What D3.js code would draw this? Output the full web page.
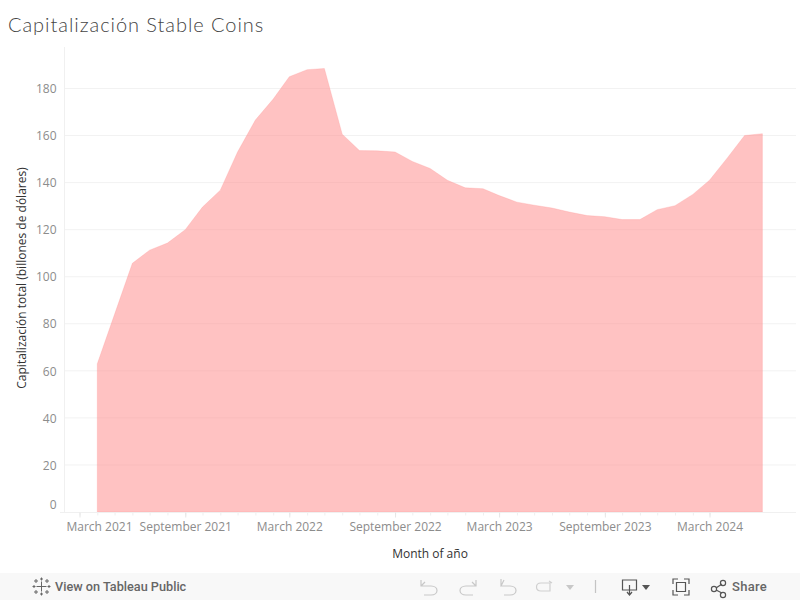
<!DOCTYPE html>
<html>
<head>
<meta charset="utf-8">
<script src="https://cdn.jsdelivr.net/npm/d3@7/dist/d3.min.js"></script>
<style>
    html, body { margin: 0; padding: 0; background: #fff; overflow: hidden; }
    text { font-family: "Open Sans", Lato, sans-serif; }
</style>
</head>
<body>
<div id="chart"></div>
<script>
// one value per month, April 2021 to June 2024
const months = ['2021-04', '2021-05', '2021-06', '2021-07', '2021-08', '2021-09', '2021-10', '2021-11', '2021-12',
    '2022-01', '2022-02', '2022-03', '2022-04', '2022-05', '2022-06', '2022-07', '2022-08', '2022-09', '2022-10', '2022-11', '2022-12',
    '2023-01', '2023-02', '2023-03', '2023-04', '2023-05', '2023-06', '2023-07', '2023-08', '2023-09', '2023-10', '2023-11', '2023-12',
    '2024-01', '2024-02', '2024-03', '2024-04', '2024-05', '2024-06'];
const capitalization = [63, 84, 105.7, 111.3, 114.3, 120, 129.6, 136.8, 153,
    166.6, 175.5, 185, 188, 188.5, 160.6, 153.6, 153.5, 153, 149, 146, 141,
    137.8, 137.4, 134.5, 131.7, 130.4, 129.2, 127.5, 126, 125.5, 124.3, 124.3, 128.5,
    130.2, 135, 141, 150.5, 160, 160.8];
const yTicks = [0, 20, 40, 60, 80, 100, 120, 140, 160, 180];
const xTicks = ['2021-03', '2021-09', '2022-03', '2022-09', '2023-03', '2023-09', '2024-03'];
const xLabels = ['March 2021', 'September 2021', 'March 2022', 'September 2022', 'March 2023', 'September 2023', 'March 2024'];

const parseMonth = d3.timeParse('%Y-%m');

const svg = d3.select('#chart').append('svg')
    .attr('width', 800)
    .attr('height', 600);

const x = d3.scaleTime()
    .domain([parseMonth('2021-03'), parseMonth('2024-03')])
    .range([79.5, 709.5]);
const y = d3.scaleLinear()
    .domain([0, 180])
    .range([512, 88.5]);

svg.append('text')
    .attr('x', 8)
    .attr('y', 32)
    .style('font-family', 'Lato, sans-serif')
    .style('font-size', '20px')
    .style('font-weight', 300)
    .style('letter-spacing', '0.95px')
    .style('fill', '#444')
    .text('Capitalización Stable Coins');

// gridlines
svg.append('g').selectAll('line')
    .data(yTicks.slice(1))
    .enter().append('line')
    .attr('x1', 65)
    .attr('x2', 796)
    .attr('y1', d => y(d))
    .attr('y2', d => y(d))
    .style('stroke', '#f2f2f2');

const area = d3.area()
    .x((d, i) => x(parseMonth(months[i])))
    .y0(y(0))
    .y1(d => y(d));

svg.append('path')
    .datum(capitalization)
    .attr('d', area)
    .style('fill', '#ff8a8a')
    .style('fill-opacity', 0.52)
    .style('stroke', '#ff8a8a')
    .style('stroke-opacity', 0.25);

// left axis
const yAxis = d3.axisLeft(y).tickValues(yTicks).tickSize(0).tickPadding(8);
const gy = svg.append('g').attr('transform', 'translate(64.5,0)').call(yAxis);
gy.select('.domain').attr('d', 'M0,47V512').style('stroke', '#f0f0f0');
gy.selectAll('text')
    .attr('dy', d => d === 0 ? '-0.3em' : '0.35em')
    .style('font-size', '12px')
    .style('fill', '#8c8c8c');

// bottom axis, minor ticks are months
const gMinor = svg.append('g').attr('transform', 'translate(0,512.5)')
    .call(d3.axisBottom(x).ticks(d3.timeMonth.every(1)).tickSize(3).tickFormat(''));
gMinor.select('.domain').remove();
gMinor.selectAll('line').style('stroke', '#efefef');

const gx = svg.append('g').attr('transform', 'translate(0,512.5)')
    .call(d3.axisBottom(x)
        .tickValues(xTicks.map(parseMonth))
        .tickSize(5)
        .tickPadding(5)
        .tickFormat((d, i) => xLabels[i]));
gx.select('.domain').attr('d', 'M60,0H796').style('stroke', '#f0f0f0');
gx.selectAll('line').style('stroke', '#e6e6e6');
gx.selectAll('text')
    .style('font-size', '12px')
    .style('fill', '#8c8c8c')
    .attr('dx', (d, i) => i === 0 ? 19.5 : 0);

svg.append('text')
    .attr('x', 430)
    .attr('y', 558)
    .attr('text-anchor', 'middle')
    .style('font-size', '12px')
    .style('fill', '#333')
    .text('Month of año');

svg.append('text')
    .attr('transform', 'translate(26,278) rotate(-90)')
    .attr('text-anchor', 'middle')
    .style('font-size', '12px')
    .style('fill', '#333')
    .text('Capitalización total (billones de dólares)');

// toolbar
const bar = svg.append('g');
bar.append('rect')
    .attr('x', 0)
    .attr('y', 573)
    .attr('width', 800)
    .attr('height', 27)
    .style('fill', '#f8f8f8');

const logo = bar.append('g')
    .attr('transform', 'translate(41.5,586.5)')
    .style('stroke', '#666')
    .style('fill', 'none');
[[0, 0, 5], [-5.5, -5.5, 2], [5.5, -5.5, 2], [-5.5, 5.5, 2], [5.5, 5.5, 2], [0, -7.5, 1.5], [0, 7.5, 1.5], [-7.5, 0, 1.5], [7.5, 0, 1.5]].forEach(p => {
    logo.append('path').attr('d', `M${p[0] - p[2]},${p[1]}H${p[0] + p[2]}M${p[0]},${p[1] - p[2]}V${p[1] + p[2]}`);
});

bar.append('text')
    .attr('x', 55)
    .attr('y', 591)
    .style('font-family', 'Roboto, sans-serif')
    .style('font-size', '12.7px')
    .style('font-weight', 500)
    .style('fill', '#666')
    .text('View on Tableau Public');

bar.append('text')
    .attr('x', 732)
    .attr('y', 591)
    .style('font-family', 'Roboto, sans-serif')
    .style('font-size', '13px')
    .style('font-weight', 500)
    .style('letter-spacing', '0.3px')
    .style('fill', '#666')
    .text('Share');

const icons = [
    { d: 'M421,580V586H431C439,586 439,595 431,595H424M421,586L425,582', color: '#c8c8c8' },
    { d: 'M476,580V586H466C458,586 458,595 466,595H473M476,586L472,582', color: '#c8c8c8' },
    { d: 'M501,579V586M504,580L501,586H510C518,586 518,595 510,595H504', color: '#c8c8c8' },
    { d: 'M541,583H550V591H541C535,591 535,583 541,583ZM549,581L552,583', color: '#d0d0d0' },
    { d: 'M595.5,580V593', color: '#c4c4c4' },
    { d: 'M629,590H622.5V580H636.5V590H630M629.5,585V594M627,592L629.5,595L632,592', color: '#555' },
    { d: 'M673,584V579H678M684,579H689V584M689,590V595H684M678,595H673V590M676.5,582.5H685.5V591.5H676.5Z', color: '#555' },
    { d: 'M716,588L722,584M716,590L722,593', color: '#555' }
];
bar.selectAll('path.icon')
    .data(icons)
    .enter().append('path')
    .attr('class', 'icon')
    .attr('d', d => d.d)
    .style('fill', 'none')
    .style('stroke', d => d.color)
    .style('stroke-width', 1.2);

bar.selectAll('circle')
    .data([[714, 589], [723, 583], [723, 595]])
    .enter().append('circle')
    .attr('cx', d => d[0])
    .attr('cy', d => d[1])
    .attr('r', 2.6)
    .style('fill', 'none')
    .style('stroke', '#555')
    .style('stroke-width', 1.2);

// small dropdown arrows
bar.selectAll('path.arrow')
    .data([{ d: 'M566,585H574L570,590Z', color: '#c8c8c8' }, { d: 'M642,585H650L646,590Z', color: '#555' }])
    .enter().append('path')
    .attr('class', 'arrow')
    .attr('d', d => d.d)
    .style('fill', d => d.color);
</script>
</body>
</html>
